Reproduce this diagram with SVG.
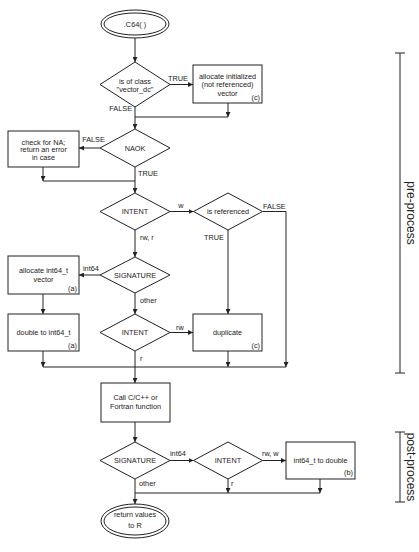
<svg xmlns="http://www.w3.org/2000/svg" width="419" height="552" viewBox="0 0 419 552">
<style>
.s{fill:#fff;stroke:#222;stroke-width:1}
.c{fill:none;stroke:#222;stroke-width:1}
text{font-family:"Liberation Sans",Arial,sans-serif;font-size:7.3px;fill:#222}
.m{text-anchor:middle}
.e{text-anchor:end}
.b{font-size:12px;text-anchor:middle}
</style>
<defs>
<marker id="ah" viewBox="0 0 6 6" refX="6" refY="3" markerWidth="5" markerHeight="5" orient="auto" markerUnits="userSpaceOnUse">
<path d="M0,0 L6,3 L0,6 z" fill="#222"/>
</marker>
</defs>
<rect width="419" height="552" fill="#fff"/>
<g id="connectors" class="c" marker-end="url(#ah)">
<path d="M135,38 V62"/>
<path d="M170,84.5 H193"/>
<path d="M228,103 V117"/>
<path d="M135,107 V129"/>
<path d="M135,117 H228" marker-end="none"/>
<path d="M100,148 H79"/>
<path d="M43,167 V181"/>
<path d="M43,181 H135" marker-end="none"/>
<path d="M135,167 V193"/>
<path d="M170,211.5 H193.5"/>
<path d="M262.5,211.5 H286 V367"/>
<path d="M228,230 V314"/>
<path d="M135,230 V257"/>
<path d="M100,275 H79"/>
<path d="M135,293 V314"/>
<path d="M43,294 V314"/>
<path d="M170,332.5 H193"/>
<path d="M43,351 V367"/>
<path d="M228,351 V367"/>
<path d="M43,367 H286" marker-end="none"/>
<path d="M135,351 V383"/>
<path d="M135,422 V442"/>
<path d="M170,460.5 H193.5"/>
<path d="M262.5,460.5 H286"/>
<path d="M228,479 V493"/>
<path d="M320,479 V493"/>
<path d="M135,493 H320" marker-end="none"/>
<path d="M135,479 V504"/>
</g>
<g id="edge-labels">
<text x="178" y="80.5" class="m">TRUE</text>
<text x="132" y="110.5" class="e">FALSE</text>
<text x="93.5" y="141.5" class="m">FALSE</text>
<text x="138" y="175.5">TRUE</text>
<text x="181" y="207.5" class="m">w</text>
<text x="263" y="208.5">FALSE</text>
<text x="204" y="239.5">TRUE</text>
<text x="140" y="239.5">rw, r</text>
<text x="83" y="270.5">int64</text>
<text x="140" y="302.5">other</text>
<text x="176" y="329.5">rw</text>
<text x="140" y="360.5">r</text>
<text x="170" y="455.5">int64</text>
<text x="262" y="455.5">rw, w</text>
<text x="231" y="486">r</text>
<text x="139" y="486">other</text>
</g>
<g id="start">
<ellipse class="s" cx="135" cy="24" rx="34" ry="14"/>
<ellipse class="c" cx="135" cy="24" rx="31" ry="11"/>
<text x="135" y="26.5" class="m">.C64( )</text>
</g>
<g id="is-class">
<polygon class="s" points="135,62 170,84.5 135,107 100,84.5"/>
<text x="135" y="83.5" class="m">is of class</text>
<text x="135" y="92" class="m">"vector_dc"</text>
</g>
<g id="alloc-init">
<rect class="s" x="193" y="65" width="69" height="38"/>
<text x="227.5" y="78.5" class="m">allocate initialized</text>
<text x="227.5" y="87" class="m">(not referenced)</text>
<text x="227.5" y="95.5" class="m">vector</text>
<text x="260" y="99.5" class="e">(c)</text>
</g>
<g id="naok">
<polygon class="s" points="135,129 170,148 135,167 100,148"/>
<text x="135" y="150.6" class="m">NAOK</text>
</g>
<g id="check-na">
<rect class="s" x="8" y="131" width="71" height="36"/>
<text x="43.5" y="144.5" class="m">check for NA;</text>
<text x="43.5" y="152" class="m">return an error</text>
<text x="43.5" y="159.5" class="m">in case</text>
</g>
<g id="intent1">
<polygon class="s" points="135,193 170,211.5 135,230 100,211.5"/>
<text x="135" y="214" class="m">INTENT</text>
</g>
<g id="is-referenced">
<polygon class="s" points="228,193 262.5,211.5 228,230 193.5,211.5"/>
<text x="228" y="214" class="m">is referenced</text>
</g>
<g id="signature1">
<polygon class="s" points="135,257 170,275 135,293 100,275"/>
<text x="135" y="277.5" class="m">SIGNATURE</text>
</g>
<g id="alloc-int64">
<rect class="s" x="8" y="256" width="71" height="38"/>
<text x="43.5" y="272.5" class="m">allocate int64_t</text>
<text x="43.5" y="281.5" class="m">vector</text>
<text x="77" y="290.5" class="e">(a)</text>
</g>
<g id="double-to-int64">
<rect class="s" x="8" y="314" width="71" height="37"/>
<text x="43.5" y="334.5" class="m">double to int64_t</text>
<text x="77" y="348" class="e">(a)</text>
</g>
<g id="intent2">
<polygon class="s" points="135,314 170,332.5 135,351 100,332.5"/>
<text x="135" y="335" class="m">INTENT</text>
</g>
<g id="duplicate">
<rect class="s" x="193" y="314" width="69" height="37"/>
<text x="227.5" y="334.5" class="m">duplicate</text>
<text x="260" y="348" class="e">(c)</text>
</g>
<g id="call">
<rect class="s" x="101" y="383" width="69" height="39"/>
<text x="135.5" y="399.5" class="m">Call C/C++ or</text>
<text x="135.5" y="408.5" class="m">Fortran function</text>
</g>
<g id="signature2">
<polygon class="s" points="135,442 170,460.5 135,479 100,460.5"/>
<text x="135" y="463" class="m">SIGNATURE</text>
</g>
<g id="intent3">
<polygon class="s" points="228,442 262.5,460.5 228,479 193.5,460.5"/>
<text x="228" y="463" class="m">INTENT</text>
</g>
<g id="int64-to-double">
<rect class="s" x="286" y="442" width="69" height="37"/>
<text x="320.5" y="462.5" class="m">int64_t to double</text>
<text x="353" y="475" class="e">(b)</text>
</g>
<g id="return">
<ellipse class="s" cx="135" cy="521" rx="34" ry="17"/>
<ellipse class="c" cx="135" cy="521" rx="31" ry="14"/>
<text x="135" y="516.5" class="m">return values</text>
<text x="135" y="528" class="m">to R</text>
</g>
<g id="pre-process">
<path class="c" d="M400,53 V373 M395,53 H405 M395,373 H405"/>
<text x="407" y="213" class="b" transform="rotate(90 407 213)">pre-process</text>
</g>
<g id="post-process">
<path class="c" d="M400,432 V502 M395,432 H405 M395,502 H405"/>
<text x="407" y="467" class="b" transform="rotate(90 407 467)">post-process</text>
</g>
</svg>
